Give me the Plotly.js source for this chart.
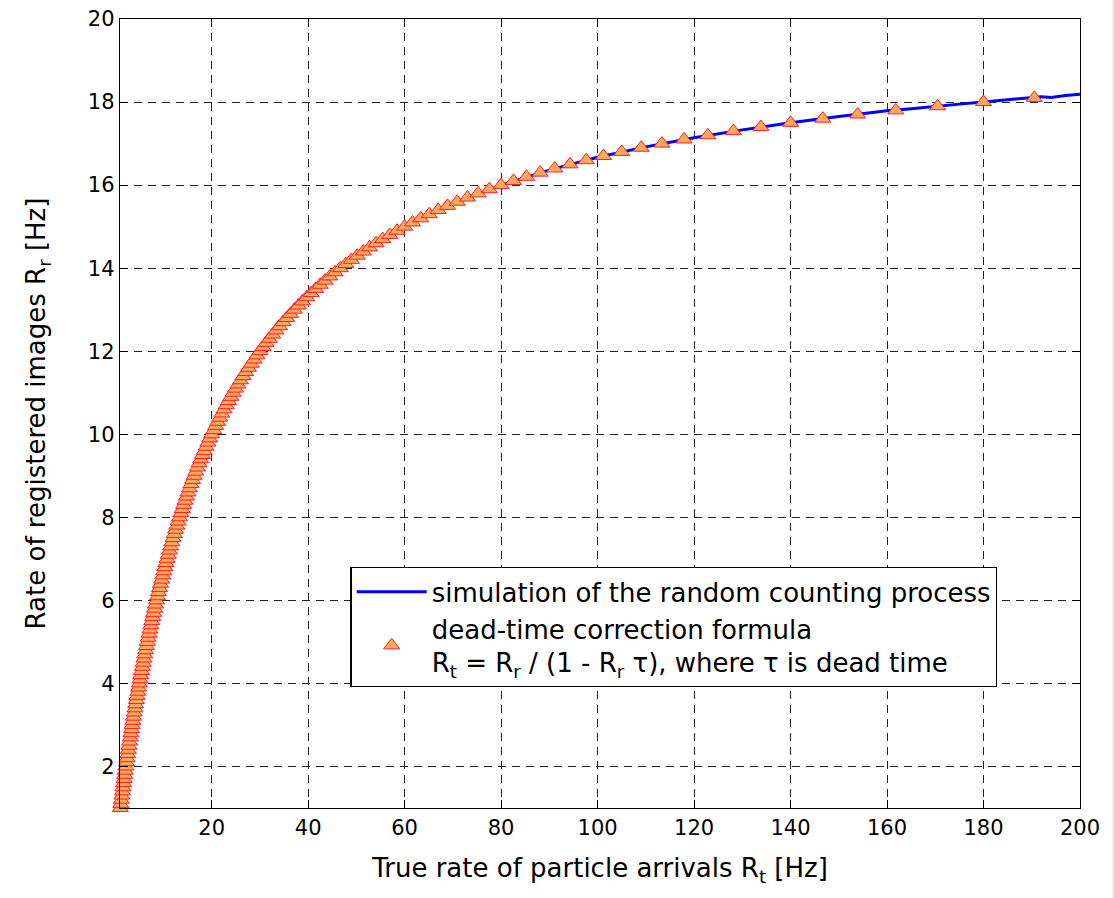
<!DOCTYPE html>
<html>
<head>
<meta charset="utf-8">
<script src="https://cdn.plot.ly/plotly-3.0.1.min.js"></script>
<style>html,body{margin:0;padding:0;background:#fff;}#chart{width:1115px;height:898px;}</style>
</head>
<body>
<div id="chart"></div>
<script>
// Simulation of the random counting process (blue line)
const simRt = [1.05, 2, 3, 4, 5, 6, 8, 10, 12, 15, 18, 20, 25, 30, 35, 40, 45, 50, 55, 60, 70, 80, 90, 100, 110, 120, 130, 140, 150, 155, 160, 165, 170, 175, 180, 185, 188, 192, 194, 197, 200];
const simRr = [1.0, 1.82, 2.61, 3.33, 4.0, 4.62, 5.71, 6.67, 7.5, 8.57, 9.47, 10.0, 11.11, 12.0, 12.73, 13.33, 13.85, 14.29, 14.67, 15.0, 15.56, 16.0, 16.36, 16.67, 16.92, 17.14, 17.33, 17.5, 17.65, 17.72, 17.79, 17.84, 17.9, 17.95, 18.0, 18.05, 18.08, 18.13, 18.11, 18.16, 18.19];

// Dead-time correction formula markers
const formRr = [1.0,1.1,1.2,1.3,1.4,1.5,1.6,1.7,1.8,1.9,2.0,2.1,2.2,2.3,2.4,2.5,2.6,2.7,2.8,2.9,
3.0,3.1,3.2,3.3,3.4,3.5,3.6,3.7,3.8,3.9,4.0,4.1,4.2,4.3,4.4,4.5,4.6,4.7,4.8,4.9,
5.0,5.1,5.2,5.3,5.4,5.5,5.6,5.7,5.8,5.9,6.0,6.1,6.2,6.3,6.4,6.5,6.6,6.7,6.8,6.9,
7.0,7.1,7.2,7.3,7.4,7.5,7.6,7.7,7.8,7.9,8.0,8.1,8.2,8.3,8.4,8.5,8.6,8.7,8.8,8.9,
9.0,9.1,9.2,9.3,9.4,9.5,9.6,9.7,9.8,9.9,10.0,10.1,10.2,10.3,10.4,10.5,10.6,10.7,10.8,10.9,
11.0,11.1,11.2,11.3,11.4,11.5,11.6,11.7,11.8,11.9,12.0,12.1,12.2,12.3,12.4,12.5,12.6,12.7,12.8,12.9,
13.0,13.1,13.2,13.3,13.4,13.5,13.6,13.7,13.8,13.9,14.0,14.1,14.2,14.3,14.4,14.5,14.6,14.7,14.8,14.9,
15.0,15.1,15.2,15.3,15.4,15.5,15.6,15.7,15.8,15.9,16.0,16.1,16.2,16.3,16.4,16.5,16.6,16.7,16.8,16.9,
17.0,17.1,17.2,17.3,17.4,17.5,17.6,17.7,17.8,17.9,18.0,18.1];
const formRt = [1.053,1.164,1.277,1.390,1.505,1.622,1.739,1.858,1.978,2.099,2.222,2.346,2.472,2.599,2.727,2.857,2.989,3.121,3.256,3.392,
3.529,3.669,3.810,3.952,4.096,4.242,4.390,4.540,4.691,4.845,5.000,5.157,5.316,5.478,5.641,5.806,5.974,6.144,6.316,6.490,
6.667,6.846,7.027,7.211,7.397,7.586,7.778,7.972,8.169,8.369,8.571,8.777,8.986,9.197,9.412,9.630,9.851,10.075,10.303,10.534,
10.769,11.008,11.250,11.496,11.746,12.000,12.258,12.520,12.787,13.058,13.333,13.613,13.898,14.188,14.483,14.783,15.088,15.398,15.714,16.036,
16.364,16.697,17.037,17.383,17.736,18.095,18.462,18.835,19.216,19.604,20.000,20.404,20.816,21.237,21.667,22.105,22.553,23.011,23.478,23.956,
24.444,24.944,25.455,25.977,26.512,27.059,27.619,28.193,28.780,29.383,30.000,30.633,31.282,31.948,32.632,33.333,34.054,34.795,35.556,36.338,
37.143,37.971,38.824,39.702,40.606,41.538,42.500,43.492,44.516,45.574,46.667,47.797,48.966,50.175,51.429,52.727,54.074,55.472,56.923,58.431,
60.000,61.633,63.333,65.106,66.957,68.889,70.909,73.023,75.238,77.561,80.000,82.564,85.263,88.108,91.111,94.286,97.647,101.212,105.000,109.032,
113.333,117.931,122.857,128.148,133.846,140.000,146.667,153.913,161.818,170.476,180.000,190.526];

const xTicks = [20, 40, 60, 80, 100, 120, 140, 160, 180, 200];
const yTicks = [2, 4, 6, 8, 10, 12, 14, 16, 18, 20];

const FONT = 'DejaVu Sans, Liberation Sans, Arial, sans-serif';

const traces = [
  {
    x: simRt, y: simRr, type: 'scatter', mode: 'lines',
    name: 'simulation of the random counting process',
    line: {color: '#0000FF', width: 3},
    cliponaxis: true
  },
  {
    x: formRt, y: formRr, type: 'scatter', mode: 'markers',
    name: 'dead-time correction formula<br>R<sub>t</sub> = R<sub>r</sub> / (1 - R<sub>r</sub> τ), where τ is dead time',
    marker: {symbol: 'triangle-up', size: 14, color: '#FFA860', line: {color: '#FF2020', width: 1}},
    cliponaxis: false
  }
];

const axisCommon = {
  showline: true, linecolor: '#000', linewidth: 1.3, mirror: 'allticks',
  ticks: 'inside', ticklen: 8, tickcolor: '#000', tickwidth: 1,
  showgrid: true, gridcolor: '#222', gridwidth: 1, griddash: '8px,6px',
  zeroline: false,
  tickfont: {family: FONT, size: 21, color: '#000'}
};

const layout = {
  width: 1115, height: 898,
  margin: {l: 120, r: 35, t: 19, b: 90},
  paper_bgcolor: '#fff', plot_bgcolor: '#fff',
  font: {family: FONT, color: '#000'},
  showlegend: true,
  xaxis: Object.assign({}, axisCommon, {
    range: [1.0, 200], tickvals: xTicks, ticktext: xTicks.map(String),
    title: {text: 'True rate of particle arrivals R<sub>t</sub> [Hz]', font: {size: 26, family: FONT, color: '#000'}, standoff: 20}
  }),
  yaxis: Object.assign({}, axisCommon, {
    range: [1, 20], tickvals: yTicks, ticktext: yTicks.map(String),
    title: {text: 'Rate of registered images R<sub>r</sub> [Hz]', font: {size: 26, family: FONT, color: '#000'}, standoff: 34}
  }),
  legend: {
    x: 0.240, y: 0.3055, xanchor: 'left', yanchor: 'top',
    bgcolor: '#fff', bordercolor: '#000', borderwidth: 1.3,
    font: {size: 26, family: FONT, color: '#000'},
    itemwidth: 70,
    tracegroupgap: 0
  },
  shapes: [
    {type: 'rect', xref: 'paper', yref: 'paper', x0: 1.034, x1: 1.045, y0: -0.2, y1: 1.05, fillcolor: '#E9DDC5', line: {width: 0}, layer: 'below'}
  ]
};

Plotly.newPlot('chart', traces, layout, {displayModeBar: false, staticPlot: true});
</script>
</body>
</html>
